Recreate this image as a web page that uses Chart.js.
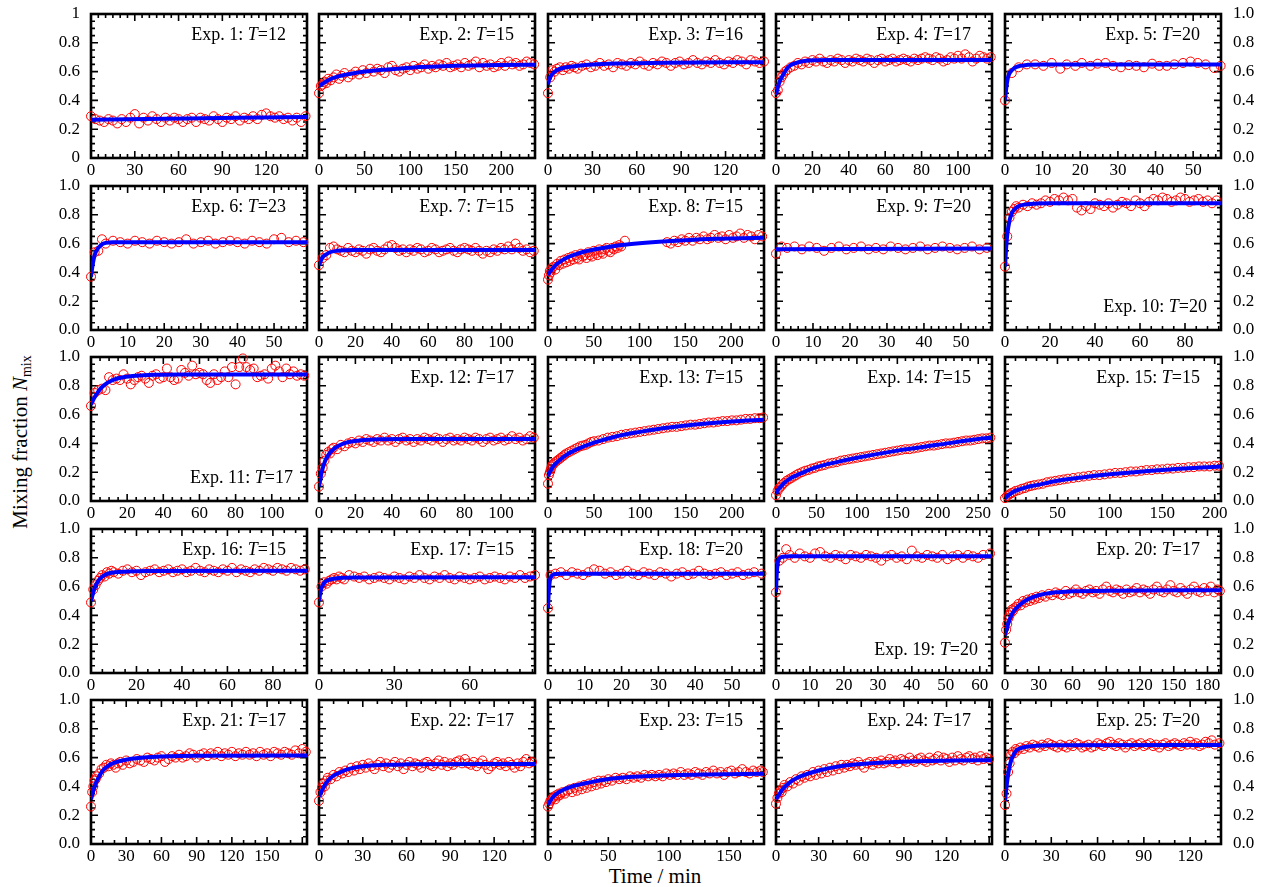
<!DOCTYPE html>
<html><head><meta charset="utf-8">
<script src="https://cdn.jsdelivr.net/npm/chart.js@4.4.1/dist/chart.umd.min.js"></script>
<style>
html,body{margin:0;padding:0;background:#fff;width:1261px;height:887px;overflow:hidden;}
body{position:relative;font-family:"Liberation Serif","Times New Roman",serif;color:#000;}
canvas.p{position:absolute;}
.ttl{position:absolute;font-size:18px;line-height:18px;white-space:nowrap;}
#xlab{position:absolute;left:655px;top:866px;transform:translateX(-50%);font-size:21px;line-height:21px;white-space:nowrap;}
#ylab{position:absolute;left:20px;top:442px;transform:translate(-50%,-50%) rotate(-90deg);font-size:21px;line-height:21px;white-space:nowrap;}
#ylab sub{font-size:14px;vertical-align:-4px;line-height:0;}
</style></head><body>
<div id="xlab">Time / min</div>
<div id="ylab">Mixing fraction <i>N</i><sub>mix</sub></div>
<script>
// ---------- data ----------
const expNames = ["1","2","3","4","5","6","7","8","9","10","11","12","13","14","15","16","17","18","19","20","21","22","23","24","25"];
const temps = [12,15,16,17,20,23,15,15,20,20,17,17,15,15,15,15,15,20,20,17,17,17,15,17,20];
const labelAtBottom = [10,11,19];
const xMax   = [148,237,146,118.7,57.4, 59,118.7,236,58.4,96, 119.5,118.7,235,267,206, 95,86,58.7,63.6,192, 184,148,179,152,140];
const xMinor = [5,10,5,5,2, 2,5,10,2,5, 5,5,10,10,10, 5,5,2,2,10, 10,10,10,10,10];
const xTickVals = [
 [0,30,60,90,120],[0,50,100,150,200],[0,30,60,90,120],[0,20,40,60,80,100],[0,10,20,30,40,50],
 [0,10,20,30,40,50],[0,20,40,60,80,100],[0,50,100,150,200],[0,10,20,30,40,50],[0,20,40,60,80],
 [0,20,40,60,80,100],[0,20,40,60,80,100],[0,50,100,150,200],[0,50,100,150,200,250],[0,50,100,150,200],
 [0,20,40,60,80],[0,30,60],[0,10,20,30,40,50],[0,10,20,30,40,50,60],[0,30,60,90,120,150,180],
 [0,30,60,90,120,150],[0,30,60,90,120],[0,50,100,150],[0,30,60,90,120],[0,30,60,90,120]
];
const yTicks = [0,0.2,0.4,0.6,0.8,1.0];

const exp1Obs=[[0,.29],[3,.27],[6,.26],[9,.25],[12,.27],[15,.26],[18,.24],[21,.27],[24,.25],[27,.28],[30,.305],[33,.24],[36,.28],[39,.26],[42,.29],[45,.27],[48,.25],[51,.28],[54,.26],[57,.28],[60,.27],[63,.25],[66,.27],[69,.28],[72,.25],[75,.28],[78,.27],[81,.26],[84,.29],[87,.27],[90,.25],[93,.28],[96,.27],[99,.29],[102,.26],[105,.28],[108,.27],[111,.29],[114,.27],[117,.30],[120,.31],[123,.29],[126,.28],[129,.29],[132,.27],[135,.28],[138,.26],[141,.28],[144,.25],[147,.29]];
const exp1Fit=[[0,.265],[50,.272],[100,.279],[148,.285]];
const exp2Obs=[[0,.45],[2,.50],[4,.51],[6,.53],[8,.52],[10,.55],[13,.54],[16,.56],[19,.58],[22,.55],[25,.57],[28,.59],[32,.56],[36,.58],[40,.60],[44,.58],[48,.61],[52,.59],[56,.62],[60,.60],[64,.62],[68,.61],[72,.59],[76,.63],[80,.64],[84,.61],[88,.60],[92,.62],[96,.63],[100,.61],[104,.64],[108,.62],[112,.63],[116,.65],[120,.62],[124,.64],[128,.63],[132,.65],[136,.64],[140,.66],[144,.63],[148,.64],[152,.65],[156,.63],[160,.66],[164,.64],[168,.65],[172,.67],[176,.63],[180,.66],[184,.64],[188,.65],[192,.63],[196,.64],[200,.66],[204,.64],[208,.67],[212,.65],[216,.66],[220,.64],[224,.65],[228,.67],[232,.66],[236,.65]];
const exp2Fit=[[0,.50],[5,.52],[10,.54],[20,.565],[35,.585],[50,.60],[75,.615],[100,.627],[150,.64],[200,.646],[237,.648]];
const exp3Obs=[[0,.45],[1.5,.56],[3,.61],[4.5,.60],[6,.62],[8,.63],[10,.61],[12,.63],[14,.62],[16,.64],[18,.63],[20,.62],[23,.64],[26,.65],[29,.63],[32,.64],[35,.66],[38,.64],[41,.65],[44,.63],[47,.66],[50,.65],[53,.64],[56,.66],[59,.65],[62,.67],[65,.65],[68,.64],[71,.66],[74,.65],[77,.67],[80,.66],[83,.64],[86,.66],[89,.67],[92,.65],[95,.66],[98,.68],[101,.66],[104,.65],[107,.67],[110,.66],[113,.68],[116,.66],[119,.65],[122,.67],[125,.66],[128,.68],[131,.67],[134,.65],[137,.68],[140,.67],[143,.66],[146,.67]];
const exp3Fit=[[0,.51],[1,.55],[3,.585],[6,.61],[10,.625],[20,.64],[30,.65],[50,.657],[80,.662],[146,.665]];
const exp4Obs=[[0,.45],[1,.47],[2,.53],[3,.56],[4,.58],[5,.60],[6,.61],[8,.63],[10,.64],[12,.66],[14,.65],[16,.67],[18,.66],[20,.68],[22,.67],[24,.69],[26,.67],[28,.66],[30,.68],[32,.67],[34,.69],[36,.68],[38,.66],[40,.68],[42,.67],[44,.69],[46,.68],[48,.67],[50,.69],[52,.68],[54,.66],[56,.68],[58,.69],[60,.67],[62,.68],[64,.69],[66,.67],[68,.68],[70,.69],[72,.68],[74,.67],[76,.69],[78,.68],[80,.69],[82,.70],[84,.69],[86,.68],[88,.70],[90,.69],[92,.67],[94,.68],[96,.70],[98,.69],[100,.71],[102,.69],[104,.72],[106,.70],[108,.67],[110,.69],[112,.71],[114,.70],[116,.69],[118,.70]];
const exp4Fit=[[0,.44],[1,.49],[2,.53],[4,.58],[6,.62],[8,.645],[10,.655],[14,.67],[20,.678],[30,.68],[118.7,.68]];
const exp5Obs=[[0,.40],[1.8,.59],[3.6,.63],[5.8,.65],[8,.65],[10.2,.64],[12.4,.66],[14.7,.62],[16.4,.65],[18.7,.64],[20.4,.66],[22.7,.64],[24.6,.655],[26.7,.66],[28.7,.64],[30.8,.63],[32.9,.645],[34.9,.64],[36.9,.63],[39.1,.655],[41,.64],[43,.64],[45,.65],[47.3,.66],[49.3,.67],[51.2,.66],[53.3,.65],[55.6,.625],[57.3,.64]];
const exp5Fit=[[0,.40],[0.4,.50],[0.8,.56],[1.5,.60],[2.5,.625],[4,.64],[6,.647],[10,.65],[57.4,.65]];
const exp6Obs=[[0,.37],[1,.54],[2,.55],[3,.63],[4,.60],[6,.62],[8,.61],[10,.60],[12,.62],[14,.61],[16,.60],[18,.62],[20,.61],[22,.60],[24,.61],[26,.63],[28,.60],[30,.61],[32,.62],[34,.60],[36,.61],[38,.62],[40,.61],[42,.60],[44,.62],[46,.61],[48,.60],[50,.63],[52,.64],[54,.61],[56,.62],[58,.61]];
const exp6Fit=[[0,.37],[0.5,.46],[1,.52],[2,.57],[3,.595],[4,.605],[6,.61],[59,.61]];
const exp7Obs=[[0,.45],[2,.50],[4,.52],[6,.57],[8,.58],[10,.56],[12,.55],[14,.54],[16,.57],[18,.55],[20,.54],[22,.56],[24,.55],[26,.53],[28,.56],[30,.57],[32,.55],[34,.54],[36,.56],[38,.58],[40,.59],[42,.57],[44,.55],[46,.56],[48,.54],[50,.56],[52,.55],[54,.57],[56,.56],[58,.54],[60,.55],[62,.57],[64,.56],[66,.54],[68,.55],[70,.56],[72,.57],[74,.55],[76,.54],[78,.56],[80,.57],[82,.56],[84,.55],[86,.57],[88,.55],[90,.53],[92,.55],[94,.54],[96,.56],[98,.55],[100,.57],[102,.56],[104,.58],[106,.56],[108,.60],[110,.57],[112,.55],[114,.56],[116,.54],[118,.55]];
const exp7Fit=[[0,.45],[1,.48],[2,.505],[4,.525],[6,.54],[10,.55],[20,.555],[118.7,.556]];
const exp8Obs=[[0,.35],[1,.38],[2,.41],[3,.40],[4,.43],[6,.44],[8,.42],[10,.46],[12,.45],[14,.48],[16,.46],[18,.49],[20,.47],[22,.50],[24,.48],[26,.51],[28,.49],[30,.52],[32,.50],[34,.49],[36,.53],[38,.51],[40,.52],[42,.50],[44,.54],[46,.52],[48,.51],[50,.55],[52,.53],[54,.52],[56,.56],[58,.54],[60,.53],[62,.56],[64,.57],[66,.55],[68,.54],[70,.57],[72,.56],[74,.58],[76,.57],[78,.59],[80,.58],[84,.62],[130,.61],[134,.60],[138,.62],[142,.61],[146,.63],[150,.62],[154,.64],[158,.62],[162,.64],[166,.63],[170,.65],[174,.63],[178,.64],[182,.66],[186,.64],[190,.65],[194,.63],[198,.66],[202,.64],[206,.65],[210,.67],[214,.64],[218,.66],[222,.65],[226,.63],[230,.66],[234,.65]];
const exp8Fit=[[0,.38],[3,.41],[6,.435],[10,.46],[20,.50],[30,.525],[40,.545],[60,.57],[80,.59],[100,.603],[130,.617],[160,.627],[200,.635],[236,.64]];
const exp9Obs=[[0,.53],[1.5,.58],[3,.57],[5,.58],[7,.56],[9,.58],[11,.57],[13,.55],[15,.57],[17,.58],[19,.56],[21,.57],[23,.58],[25,.56],[27,.57],[29,.56],[31,.58],[33,.57],[35,.56],[37,.57],[39,.58],[41,.56],[43,.57],[45,.58],[47,.57],[49,.56],[51,.57],[53,.58],[55,.56],[57,.57]];
const exp9Fit=[[0,.56],[58.4,.566]];
const exp10Obs=[[0,.44],[1,.65],[2,.78],[3,.82],[4,.84],[5,.86],[6,.85],[8,.87],[10,.86],[12,.88],[14,.87],[16,.88],[18,.90],[20,.89],[22,.91],[24,.90],[26,.92],[28,.90],[30,.91],[32,.85],[34,.83],[36,.86],[38,.84],[40,.88],[42,.87],[44,.86],[46,.88],[48,.85],[50,.87],[52,.89],[54,.88],[56,.86],[58,.90],[60,.88],[62,.86],[64,.89],[66,.91],[68,.90],[70,.92],[72,.91],[74,.89],[76,.90],[78,.92],[80,.91],[82,.89],[84,.90],[86,.91],[88,.89],[90,.90],[92,.88],[94,.90]];
const exp10Fit=[[0,.44],[0.5,.57],[1,.66],[2,.76],[3,.81],[4,.835],[6,.86],[9,.872],[14,.878],[20,.88],[96,.88]];
const exp11Obs=[[0,.66],[2,.75],[4,.77],[6,.78],[8,.77],[10,.86],[12,.84],[14,.85],[16,.84],[18,.88],[20,.85],[22,.81],[24,.84],[26,.86],[28,.87],[30,.85],[32,.82],[34,.87],[36,.88],[38,.85],[40,.86],[42,.92],[44,.86],[46,.84],[48,.85],[50,.91],[52,.89],[54,.87],[56,.94],[58,.88],[60,.89],[62,.88],[64,.84],[66,.82],[68,.88],[70,.84],[72,.86],[74,.90],[76,.86],[78,.93],[80,.81],[82,.93],[84,.99],[86,.93],[88,.91],[90,.92],[92,.86],[94,.87],[96,.88],[98,.85],[100,.92],[102,.94],[104,.90],[106,.86],[108,.92],[110,.88],[112,.90],[114,.87],[116,.88],[118,.87]];
const exp11Fit=[[0,.67],[2,.72],[4,.76],[6,.79],[9,.82],[13,.845],[18,.86],[25,.87],[35,.876],[50,.878],[119.5,.878]];
const exp12Obs=[[0,.10],[1,.19],[2,.23],[3,.28],[4,.32],[5,.34],[6,.33],[7,.36],[8,.37],[10,.36],[12,.39],[14,.38],[16,.40],[18,.41],[20,.40],[22,.42],[24,.41],[26,.43],[28,.42],[30,.41],[32,.43],[34,.42],[36,.44],[38,.42],[40,.43],[42,.41],[44,.43],[46,.44],[48,.42],[50,.43],[52,.41],[54,.43],[56,.42],[58,.44],[60,.43],[62,.42],[64,.44],[66,.43],[68,.41],[70,.43],[72,.44],[74,.42],[76,.43],[78,.42],[80,.44],[82,.43],[84,.42],[86,.44],[88,.43],[90,.41],[92,.43],[94,.44],[96,.42],[98,.43],[100,.44],[102,.42],[104,.43],[106,.45],[108,.43],[110,.44],[112,.42],[114,.43],[116,.45],[118,.44]];
const exp12Fit=[[0,.10],[1,.17],[2,.225],[3,.265],[4,.295],[6,.335],[8,.36],[11,.385],[15,.405],[20,.417],[30,.427],[50,.43],[118.7,.43]];
const exp13Obs=[[0,.12],[1,.18],[2,.20],[3,.22],[4,.24],[5,.25],[6,.26],[8,.27],[10,.28],[12,.29],[14,.30],[16,.31],[18,.32],[20,.33],[23,.34],[26,.35],[29,.36],[32,.37],[35,.38],[38,.385],[41,.39],[44,.40],[47,.41],[50,.415],[55,.42],[60,.43],[65,.44],[70,.445],[75,.45],[80,.46],[85,.465],[90,.47],[95,.475],[100,.48],[105,.485],[110,.49],[115,.495],[120,.50],[125,.505],[130,.51],[135,.515],[140,.515],[145,.52],[150,.525],[155,.53],[160,.53],[165,.535],[170,.54],[175,.545],[180,.545],[185,.55],[190,.555],[195,.555],[200,.56],[205,.56],[210,.565],[215,.57],[220,.57],[225,.575],[230,.575],[234,.58]];
const exp13Fit=[[0,.17],[2,.20],[5,.235],[10,.27],[20,.32],[30,.355],[50,.405],[75,.45],[100,.48],[125,.505],[150,.525],[200,.552],[235,.565]];
const exp14Obs=[[0,.04],[2,.07],[4,.09],[6,.10],[8,.115],[10,.125],[13,.14],[16,.15],[19,.16],[22,.17],[25,.18],[28,.19],[32,.20],[36,.21],[40,.215],[44,.225],[48,.23],[52,.24],[56,.245],[60,.25],[65,.26],[70,.265],[75,.27],[80,.28],[85,.285],[90,.29],[95,.295],[100,.30],[105,.305],[110,.31],[115,.315],[120,.32],[125,.325],[130,.33],[135,.335],[140,.34],[145,.345],[150,.35],[155,.355],[160,.36],[165,.36],[170,.365],[175,.37],[180,.375],[185,.38],[190,.385],[195,.385],[200,.39],[205,.395],[210,.40],[215,.40],[220,.405],[225,.41],[230,.415],[235,.42],[240,.42],[245,.425],[250,.43],[255,.435],[260,.435],[265,.44]];
const exp14Fit=[[0,.05],[3,.08],[6,.10],[10,.125],[20,.165],[30,.19],[50,.235],[75,.27],[100,.30],[150,.35],[200,.39],[250,.43],[267,.44]];
const exp15Obs=[[0,.02],[2,.035],[4,.045],[6,.055],[8,.06],[10,.07],[13,.075],[16,.085],[19,.09],[22,.10],[25,.105],[28,.11],[32,.115],[36,.12],[40,.13],[44,.135],[48,.14],[52,.145],[56,.15],[60,.155],[65,.16],[70,.165],[75,.17],[80,.175],[85,.18],[90,.18],[95,.185],[100,.19],[105,.195],[110,.195],[115,.20],[120,.205],[125,.205],[130,.21],[135,.215],[140,.215],[145,.22],[150,.22],[155,.225],[160,.225],[165,.23],[170,.23],[175,.235],[180,.235],[185,.24],[190,.24],[195,.24],[200,.245],[204,.245]];
const exp15Fit=[[0,.02],[5,.05],[10,.07],[20,.095],[30,.11],[50,.14],[75,.165],[100,.185],[150,.215],[206,.24]];
const exp16Obs=[[0,.49],[1,.58],[2,.61],[3,.64],[4,.66],[5,.68],[6,.67],[7,.70],[8,.69],[9,.71],[10,.70],[12,.69],[14,.71],[16,.72],[18,.70],[20,.71],[22,.68],[24,.70],[26,.71],[28,.72],[30,.70],[32,.71],[34,.72],[36,.70],[38,.71],[40,.72],[42,.70],[44,.71],[46,.73],[48,.71],[50,.70],[52,.72],[54,.71],[56,.70],[58,.72],[60,.71],[62,.73],[64,.70],[66,.72],[68,.71],[70,.70],[72,.72],[74,.71],[76,.73],[78,.72],[80,.71],[82,.73],[84,.72],[86,.71],[88,.73],[90,.72],[92,.71],[94,.72]];
const exp16Fit=[[0,.50],[1,.56],[2,.605],[3,.635],[4,.655],[6,.68],[8,.693],[11,.70],[16,.705],[25,.708],[95,.71]];
const exp17Obs=[[0,.49],[1,.60],[2,.63],[3,.62],[4,.64],[5,.65],[6,.66],[7,.65],[8,.67],[9,.66],[10,.65],[12,.68],[14,.67],[16,.66],[18,.67],[20,.65],[22,.66],[24,.67],[26,.66],[28,.65],[30,.67],[32,.66],[34,.65],[36,.67],[38,.66],[40,.68],[42,.66],[44,.65],[46,.67],[48,.66],[50,.68],[52,.66],[54,.65],[56,.67],[58,.66],[60,.65],[62,.66],[64,.67],[66,.65],[68,.66],[70,.67],[72,.66],[74,.65],[76,.67],[78,.66],[80,.68],[82,.66],[84,.67],[86,.68]];
const exp17Fit=[[0,.50],[0.5,.555],[1,.59],[2,.625],[3,.64],[5,.652],[8,.66],[15,.663],[86,.665]];
const exp18Obs=[[0,.45],[0.7,.68],[2,.69],[3.5,.70],[5,.68],[6.5,.70],[8,.69],[9.5,.68],[11,.70],[12.5,.72],[14,.71],[15.5,.69],[17,.70],[18.5,.68],[20,.69],[21.5,.71],[23,.69],[24.5,.68],[26,.70],[27.5,.69],[29,.68],[30.5,.70],[32,.69],[33.5,.67],[35,.69],[36.5,.70],[38,.68],[39.5,.69],[41,.71],[42.5,.69],[44,.68],[45.5,.69],[47,.70],[48.5,.68],[50,.69],[51.5,.70],[53,.68],[54.5,.69],[56,.70],[58,.69]];
const exp18Fit=[[0,.45],[0.2,.56],[0.5,.64],[1,.675],[2,.688],[4,.69],[58.7,.69]];
const exp19Obs=[[0,.56],[1,.78],[2,.80],[3,.86],[4,.82],[5.5,.80],[7,.83],[8.5,.81],[10,.80],[11.5,.83],[13,.84],[14.5,.81],[16,.80],[17.5,.82],[19,.81],[20.5,.79],[22,.82],[23.5,.81],[25,.80],[26.5,.82],[28,.81],[29.5,.80],[31,.78],[32.5,.81],[34,.82],[35.5,.80],[37,.81],[38.5,.79],[40,.85],[41.5,.81],[43,.80],[44.5,.82],[46,.81],[47.5,.80],[49,.82],[50.5,.79],[52,.81],[53.5,.82],[55,.80],[56.5,.82],[58,.81],[59.5,.80],[61,.82],[63,.83]];
const exp19Fit=[[0,.56],[0.2,.68],[0.5,.76],[1,.795],[2,.808],[4,.81],[63.6,.81]];
const exp20Obs=[[0,.21],[1,.30],[2,.34],[3,.38],[4,.40],[5,.42],[6,.44],[7,.43],[8,.45],[10,.46],[12,.48],[14,.47],[16,.50],[18,.49],[20,.51],[22,.50],[24,.52],[26,.51],[28,.53],[30,.52],[33,.54],[36,.53],[39,.55],[42,.54],[45,.56],[48,.55],[51,.54],[54,.57],[57,.55],[60,.56],[63,.58],[66,.56],[69,.55],[72,.57],[75,.58],[78,.56],[81,.57],[84,.55],[87,.58],[90,.60],[93,.57],[96,.56],[99,.58],[102,.57],[105,.55],[108,.58],[111,.56],[114,.57],[117,.59],[120,.56],[123,.58],[126,.57],[129,.55],[132,.58],[135,.60],[138,.57],[141,.56],[144,.58],[147,.61],[150,.57],[153,.56],[156,.59],[159,.57],[162,.55],[165,.58],[168,.60],[171,.57],[174,.56],[177,.59],[180,.57],[183,.60],[186,.56],[189,.58],[191,.57]];
const exp20Fit=[[0,.26],[2,.32],[4,.37],[7,.42],[10,.45],[15,.485],[20,.51],[30,.54],[45,.56],[60,.567],[90,.572],[192,.575]];
const exp21Obs=[[0,.26],[1,.36],[2,.40],[3,.44],[4,.45],[5,.47],[7,.49],[9,.52],[11,.53],[13,.55],[15,.54],[17,.56],[19,.55],[21,.53],[23,.56],[25,.57],[27,.55],[30,.58],[33,.56],[36,.57],[39,.59],[42,.58],[45,.57],[48,.60],[51,.59],[54,.58],[57,.60],[60,.61],[63,.57],[66,.59],[69,.61],[72,.60],[75,.62],[78,.60],[81,.61],[84,.63],[87,.62],[90,.60],[93,.62],[96,.63],[99,.61],[102,.63],[105,.62],[108,.64],[111,.61],[114,.63],[117,.62],[120,.64],[123,.61],[126,.63],[129,.62],[132,.64],[135,.62],[138,.63],[141,.61],[144,.64],[147,.62],[150,.63],[153,.61],[156,.64],[159,.63],[162,.62],[165,.64],[168,.63],[171,.62],[174,.65],[177,.63],[180,.66],[183,.64]];
const exp21Fit=[[0,.31],[2,.37],[4,.42],[7,.47],[10,.51],[15,.545],[20,.565],[30,.585],[45,.60],[60,.607],[90,.613],[184,.615]];
const exp22Obs=[[0,.30],[1,.36],[2,.39],[3,.42],[4,.40],[5,.44],[6,.46],[8,.45],[10,.48],[12,.47],[14,.50],[16,.49],[18,.51],[20,.50],[22,.53],[24,.51],[26,.54],[28,.52],[30,.55],[32,.53],[34,.56],[36,.54],[38,.52],[40,.55],[42,.57],[44,.54],[46,.56],[48,.53],[50,.55],[52,.57],[54,.54],[56,.56],[58,.52],[60,.55],[62,.57],[64,.54],[66,.56],[68,.55],[70,.53],[72,.56],[74,.57],[76,.55],[78,.54],[80,.56],[82,.58],[84,.55],[86,.57],[88,.54],[90,.56],[92,.55],[94,.57],[96,.58],[98,.56],[100,.59],[102,.56],[104,.55],[106,.57],[108,.54],[110,.56],[112,.58],[114,.55],[116,.52],[118,.54],[120,.56],[122,.57],[124,.55],[126,.56],[128,.54],[130,.57],[132,.55],[134,.53],[136,.56],[138,.54],[140,.57],[142,.59],[144,.56],[146,.57]];
const exp22Fit=[[0,.33],[2,.37],[4,.41],[7,.45],[10,.475],[15,.50],[20,.52],[30,.54],[45,.55],[60,.553],[148,.556]];
const exp23Obs=[[0,.26],[1,.28],[2,.30],[3,.31],[4,.32],[5,.33],[6,.31],[7,.34],[8,.33],[9,.35],[10,.34],[12,.36],[14,.35],[16,.37],[18,.38],[20,.36],[22,.39],[24,.37],[26,.40],[28,.38],[30,.41],[32,.39],[34,.42],[36,.40],[38,.43],[40,.41],[42,.44],[44,.42],[46,.44],[48,.43],[50,.45],[53,.44],[56,.46],[59,.45],[62,.46],[65,.45],[68,.47],[71,.46],[74,.47],[77,.46],[80,.48],[83,.47],[86,.48],[89,.47],[92,.48],[95,.47],[98,.49],[101,.48],[104,.49],[107,.48],[110,.50],[113,.48],[116,.49],[119,.48],[122,.50],[125,.49],[128,.48],[131,.50],[134,.49],[137,.51],[140,.49],[143,.50],[146,.48],[149,.50],[152,.51],[155,.49],[158,.50],[161,.52],[164,.50],[167,.49],[170,.51],[173,.50],[176,.51],[178,.50]];
const exp23Fit=[[0,.27],[2,.30],[5,.335],[10,.365],[20,.40],[30,.42],[45,.445],[60,.46],[80,.47],[100,.477],[130,.483],[179,.488]];
const exp24Obs=[[0,.28],[1,.32],[2,.35],[3,.37],[4,.36],[5,.39],[6,.41],[8,.40],[10,.43],[12,.42],[14,.45],[16,.44],[18,.47],[20,.46],[22,.48],[24,.47],[26,.50],[28,.48],[30,.51],[32,.49],[34,.52],[36,.50],[38,.53],[40,.51],[42,.54],[44,.52],[46,.55],[48,.53],[50,.55],[52,.54],[54,.56],[56,.55],[58,.57],[60,.55],[62,.53],[64,.56],[66,.57],[68,.55],[70,.57],[72,.56],[74,.58],[76,.56],[78,.57],[80,.59],[82,.57],[84,.58],[86,.56],[88,.59],[90,.58],[92,.57],[94,.60],[96,.58],[98,.57],[100,.59],[102,.60],[104,.58],[106,.57],[108,.60],[110,.58],[112,.59],[114,.61],[116,.58],[118,.60],[120,.59],[122,.57],[124,.60],[126,.58],[128,.61],[130,.59],[132,.58],[134,.60],[136,.61],[138,.59],[140,.60],[142,.58],[144,.61],[146,.59],[148,.60],[150,.59]];
const exp24Fit=[[0,.31],[2,.34],[5,.385],[10,.43],[15,.46],[20,.48],[30,.51],[45,.54],[60,.555],[80,.568],[100,.575],[125,.58],[152,.582]];
const exp25Obs=[[0,.27],[1,.35],[2,.50],[3,.56],[4,.62],[5,.64],[6,.63],[7,.66],[8,.65],[10,.67],[12,.66],[14,.68],[16,.67],[18,.69],[20,.68],[22,.67],[24,.69],[26,.68],[28,.70],[30,.69],[32,.68],[34,.67],[36,.69],[38,.68],[40,.67],[42,.69],[44,.68],[46,.70],[48,.69],[50,.67],[52,.68],[54,.69],[56,.67],[58,.68],[60,.70],[62,.69],[64,.68],[66,.70],[68,.71],[70,.69],[72,.68],[74,.70],[76,.69],[78,.67],[80,.69],[82,.70],[84,.68],[86,.69],[88,.70],[90,.68],[92,.69],[94,.70],[96,.68],[98,.69],[100,.67],[102,.69],[104,.70],[106,.68],[108,.69],[110,.70],[112,.69],[114,.68],[116,.70],[118,.69],[120,.71],[122,.69],[124,.70],[126,.68],[128,.69],[130,.71],[132,.70],[134,.72],[136,.69],[139,.70]];
const exp25Fit=[[0,.30],[1,.40],[2,.48],[3,.54],[4,.58],[6,.63],[8,.655],[12,.672],[20,.682],[30,.685],[140,.688]];

const obsAll=[exp1Obs,exp2Obs,exp3Obs,exp4Obs,exp5Obs,exp6Obs,exp7Obs,exp8Obs,exp9Obs,exp10Obs,exp11Obs,exp12Obs,exp13Obs,exp14Obs,exp15Obs,exp16Obs,exp17Obs,exp18Obs,exp19Obs,exp20Obs,exp21Obs,exp22Obs,exp23Obs,exp24Obs,exp25Obs];
const fitAll=[exp1Fit,exp2Fit,exp3Fit,exp4Fit,exp5Fit,exp6Fit,exp7Fit,exp8Fit,exp9Fit,exp10Fit,exp11Fit,exp12Fit,exp13Fit,exp14Fit,exp15Fit,exp16Fit,exp17Fit,exp18Fit,exp19Fit,exp20Fit,exp21Fit,exp22Fit,exp23Fit,exp24Fit,exp25Fit];

// ---------- layout ----------
const colLeft=[91,319,548,776,1005];
const rowTop=[14,186,357,529,700];
const PW=216, PH=144;
const PL=45, PR=45, PT=28, PB=28;
const FONT="'Liberation Serif','Times New Roman',serif";

const frameTicks={
  id:'frameTicks',
  beforeDatasetsDraw(chart){
    const o=chart.options.plugins.frameTicks;
    const {ctx,chartArea:a,scales:{x,y}}=chart;
    ctx.save();
    ctx.strokeStyle='#000';
    ctx.lineWidth=1.6;
    ctx.beginPath();
    const nx=Math.floor(x.max/o.minorX+1e-6);
    for(let i=0;i<=nx;i++){
      const v=i*o.minorX;
      const major=o.majors.some(m=>Math.abs(m-v)<1e-6) || (v%o.majorStep===0);
      const len=major?7:4;
      const px=x.getPixelForValue(v);
      ctx.moveTo(px,a.bottom);ctx.lineTo(px,a.bottom-len);
      ctx.moveTo(px,a.top);ctx.lineTo(px,a.top+len);
    }
    for(let i=0;i<=20;i++){
      const v=i*0.05;
      const len=(i%4===0)?7:4;
      const py=y.getPixelForValue(v);
      ctx.moveTo(a.left,py);ctx.lineTo(a.left+len,py);
      ctx.moveTo(a.right,py);ctx.lineTo(a.right-len,py);
    }
    ctx.stroke();
    ctx.lineWidth=2.6;
    ctx.strokeRect(a.left,a.top,a.right-a.left,a.bottom-a.top);
    ctx.restore();
  }
};

function yLabel(row){
  return function(v){
    if(row===0){ if(v===0) return '0'; if(v===1) return '1'; }
    return Number(v).toFixed(1);
  };
}

for(let k=0;k<25;k++){
  const row=Math.floor(k/5), col=k%5;
  const L=colLeft[col], T=rowTop[row];
  const cv=document.createElement('canvas');
  cv.className='p';
  cv.width=PL+PW+PR; cv.height=PT+PH+PB;
  cv.style.left=(L-PL)+'px'; cv.style.top=(T-PT)+'px';
  cv.style.width=cv.width+'px'; cv.style.height=cv.height+'px';
  document.body.appendChild(cv);
  const xt=xTickVals[k];
  const tickFont={family:FONT,size:17};
  new Chart(cv,{
    type:'scatter',
    data:{datasets:[
      {label:'fit',data:fitAll[k].map(p=>({x:p[0],y:p[1]})),showLine:true,borderColor:'#0000ff',borderWidth:4,pointRadius:0,cubicInterpolationMode:'monotone',fill:false,order:0},
      {label:'obs',data:obsAll[k].map(p=>({x:p[0],y:p[1]})),showLine:false,borderColor:'#ff0000',backgroundColor:'rgba(0,0,0,0)',pointRadius:4.5,pointBorderWidth:1,borderWidth:1,order:1,clip:false}
    ]},
    options:{
      responsive:false,animation:false,devicePixelRatio:1,
      layout:{padding:{top:PT,left:0,right:0,bottom:0}},
      plugins:{legend:{display:false},tooltip:{enabled:false},frameTicks:{majors:xt,majorStep:xt[1]-xt[0],minorX:xMinor[k]}},
      events:[],
      scales:{
        x:{type:'linear',position:'bottom',min:0,max:xMax[k],
           afterBuildTicks:s=>{s.ticks=xt.map(v=>({value:v}));},
           afterFit:s=>{s.height=PB;},
           grid:{display:false,drawTicks:false},border:{display:false},
           ticks:{autoSkip:false,maxRotation:0,minRotation:0,padding:2,color:'#000',font:tickFont,callback:v=>String(v)}},
        y:{type:'linear',position:'left',min:0,max:1,
           afterBuildTicks:s=>{s.ticks=yTicks.map(v=>({value:v}));},
           afterFit:s=>{s.width=PL;},
           grid:{display:false,drawTicks:false},border:{display:false},
           ticks:{display:col===0,padding:11,color:'#000',font:tickFont,callback:yLabel(row)}},
        y2:{type:'linear',position:'right',min:0,max:1,
           afterBuildTicks:s=>{s.ticks=yTicks.map(v=>({value:v}));},
           afterFit:s=>{s.width=PR;},
           grid:{display:false,drawTicks:false},border:{display:false},
           ticks:{display:col===4,padding:12,color:'#000',font:tickFont,callback:yLabel(-1)}}
      }
    },
    plugins:[frameTicks]
  });
  const d=document.createElement('div');
  d.className='ttl';
  d.innerHTML='Exp. '+expNames[k]+': <i>T</i>='+temps[k];
  const bottom=labelAtBottom.includes(k+1);
  d.style.right=(1261-(L+PW-(bottom?14:21)))+'px';
  d.style.top=(bottom?(T+PH-33):(T+11))+'px';
  document.body.appendChild(d);
}
</script>
</body></html>
